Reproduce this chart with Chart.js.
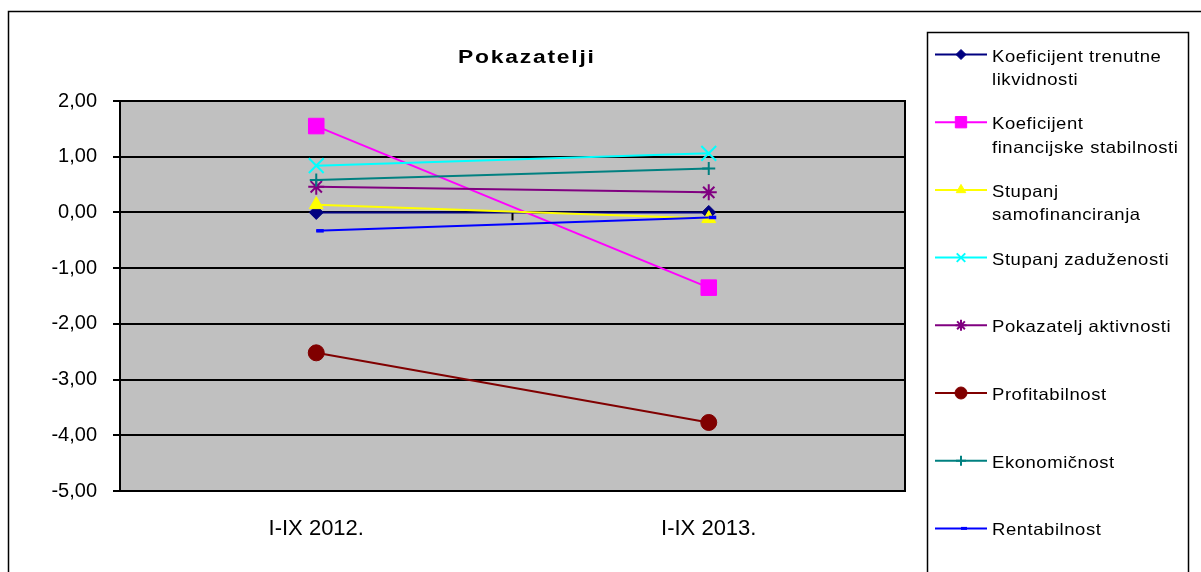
<!DOCTYPE html>
<html><head><meta charset="utf-8">
<script src="https://cdn.jsdelivr.net/npm/chart.js@4/dist/chart.umd.min.js"></script>
<style>html,body{margin:0;padding:0;background:#fff;overflow:hidden}#wrap{width:1201px;height:572px;position:relative}canvas{display:block}</style>
</head><body><div id="wrap"><canvas id="c" width="1201" height="572"></canvas></div>
<script>
// ---- data ----
const chartTitle = 'Pokazatelji';
const categories = ['I-IX 2012.', 'I-IX 2013.'];
const seriesNames = [
  'Koeficijent trenutne likvidnosti',
  'Koeficijent financijske stabilnosti',
  'Stupanj samofinanciranja',
  'Stupanj zaduženosti',
  'Pokazatelj aktivnosti',
  'Profitabilnost',
  'Ekonomičnost',
  'Rentabilnost'
];
const legendLines = [
  ['Koeficijent trenutne', 'likvidnosti'],
  ['Koeficijent', 'financijske stabilnosti'],
  ['Stupanj', 'samofinanciranja'],
  ['Stupanj zaduženosti'],
  ['Pokazatelj aktivnosti'],
  ['Profitabilnost'],
  ['Ekonomičnost'],
  ['Rentabilnost']
];
const koefTrenutneLikvidnosti = [0.00, 0.00];
const koefFinancijskeStabilnosti = [1.55, -1.35];
const stupanjSamofinanciranja = [0.14, -0.11];
const stupanjZaduzenosti = [0.84, 1.06];
const pokazateljAktivnosti = [0.46, 0.36];
const profitabilnost = [-2.52, -3.77];
const ekonomicnost = [0.58, 0.79];
const rentabilnost = [-0.33, -0.09];
const yMin = -5, yMax = 2, yStep = 1;

// ---- styles ----
const seriesValues = [koefTrenutneLikvidnosti, koefFinancijskeStabilnosti, stupanjSamofinanciranja,
  stupanjZaduzenosti, pokazateljAktivnosti, profitabilnost, ekonomicnost, rentabilnost];
const colors = ['#000080', '#FF00FF', '#FFFF00', '#00FFFF', '#800080', '#800000', '#008080', '#0000FF'];
const styles = ['rectRot', 'rect', 'triangle', 'crossRot', 'star', 'circle', 'cross', 'dash'];
const radii = [7, 11, 8, 10.5, 8, 8, 6.5, 7.5];
const pBorder = [1, 1, 1, 2, 2, 1, 2, 3.5];
const legRadii = [5, 8, 5.5, 6, 5.5, 6, 5, 6];
const legBorder = [1, 1, 1, 2, 2, 1, 2, 3];

const FONT = '"Liberation Sans", Arial, sans-serif';

const datasets = seriesNames.map((name, i) => ({
  label: name,
  data: seriesValues[i],
  borderColor: colors[i],
  backgroundColor: colors[i],
  pointBackgroundColor: colors[i],
  pointBorderColor: colors[i],
  pointStyle: styles[i],
  pointRadius: radii[i],
  pointHoverRadius: radii[i],
  pointBorderWidth: pBorder[i],
  borderWidth: 2,
  tension: 0,
  fill: false,
  order: seriesNames.length - i
}));

function stretchedText(ctx, text, x, y, sx, spacing) {
  ctx.save();
  ctx.translate(x, y);
  ctx.scale(sx, 1);
  try { ctx.letterSpacing = spacing + 'px'; } catch (e) {}
  ctx.fillText(text, 0, 0);
  ctx.restore();
}

const frame = {
  id: 'frame',
  beforeDraw(chart) {
    const ctx = chart.ctx, a = chart.chartArea;
    ctx.save();
    ctx.fillStyle = '#fff';
    ctx.fillRect(0, 0, chart.width, chart.height);
    ctx.strokeStyle = '#000';
    ctx.lineWidth = 1.5;
    ctx.beginPath();
    ctx.moveTo(8.5, chart.height + 5);
    ctx.lineTo(8.5, 11.5);
    ctx.lineTo(chart.width + 5, 11.5);
    ctx.stroke();
    ctx.fillStyle = '#C0C0C0';
    ctx.fillRect(a.left, a.top, a.right - a.left, a.bottom - a.top);
    ctx.restore();
  },
  beforeDatasetsDraw(chart) {
    const ctx = chart.ctx, a = chart.chartArea;
    const xs = chart.scales.x, ys = chart.scales.y;
    ctx.save();
    ctx.strokeStyle = '#000';
    ctx.lineWidth = 2;
    ctx.strokeRect(a.left, a.top, a.right - a.left, a.bottom - a.top);
    const y0 = ys.getPixelForValue(0);
    const xm = (xs.getPixelForValue(0) + xs.getPixelForValue(1)) / 2;
    ctx.beginPath();
    ctx.moveTo(xm, y0);
    ctx.lineTo(xm, y0 + 8);
    ctx.stroke();
    ctx.restore();
  },
  afterDraw(chart) {
    const ctx = chart.ctx;
    ctx.save();
    ctx.fillStyle = '#000';
    ctx.font = 'bold 18px ' + FONT;
    ctx.textAlign = 'left';
    ctx.textBaseline = 'alphabetic';
    stretchedText(ctx, chartTitle, 458, 63, 1.27, 1.4);
    ctx.strokeStyle = '#000';
    ctx.lineWidth = 1.5;
    ctx.strokeRect(927.5, 32.5, 261, 600);
    chart.data.datasets.forEach((ds, i) => {
      const y = 54.5 + i * 67.7;
      ctx.strokeStyle = ds.borderColor;
      ctx.fillStyle = ds.backgroundColor;
      ctx.lineWidth = 2;
      ctx.beginPath();
      ctx.moveTo(935, y);
      ctx.lineTo(987, y);
      ctx.stroke();
      ctx.lineWidth = legBorder[i];
      if (Chart.helpers && Chart.helpers.drawPoint) {
        Chart.helpers.drawPoint(ctx, {pointStyle: ds.pointStyle, radius: legRadii[i], rotation: 0, borderWidth: legBorder[i]}, 961, y);
      }
      ctx.fillStyle = '#000';
      ctx.font = '16.5px ' + FONT;
      ctx.textAlign = 'left';
      legendLines[i].forEach((ln, k) => stretchedText(ctx, ln, 992, y + 7 + k * 23.5, 1.12, 0.5));
    });
    ctx.restore();
  }
};

new Chart(document.getElementById('c'), {
  type: 'line',
  data: { labels: categories, datasets },
  options: {
    responsive: false,
    animation: false,
    devicePixelRatio: 1,
    layout: { padding: { left: 0, right: 296, top: 101, bottom: 0 } },
    plugins: { legend: { display: false }, title: { display: false }, tooltip: { enabled: false } },
    scales: {
      x: {
        type: 'category',
        offset: true,
        grid: { display: false, drawTicks: false, tickLength: 0 },
        border: { display: false },
        ticks: { color: '#000', font: { family: FONT, size: 22 }, padding: 25, maxRotation: 0 },
        afterFit(s) { s.height = 81; }
      },
      y: {
        min: yMin, max: yMax,
        grid: { color: '#000', lineWidth: 2, tickLength: 7, drawTicks: true },
        border: { display: false },
        ticks: {
          stepSize: yStep, color: '#000', padding: 16,
          font: { family: FONT, size: 20 },
          callback: v => Number(v).toFixed(2).replace('.', ',')
        },
        afterFit(s) { s.width = 120; }
      }
    }
  },
  plugins: [frame]
});
</script>
</body></html>
